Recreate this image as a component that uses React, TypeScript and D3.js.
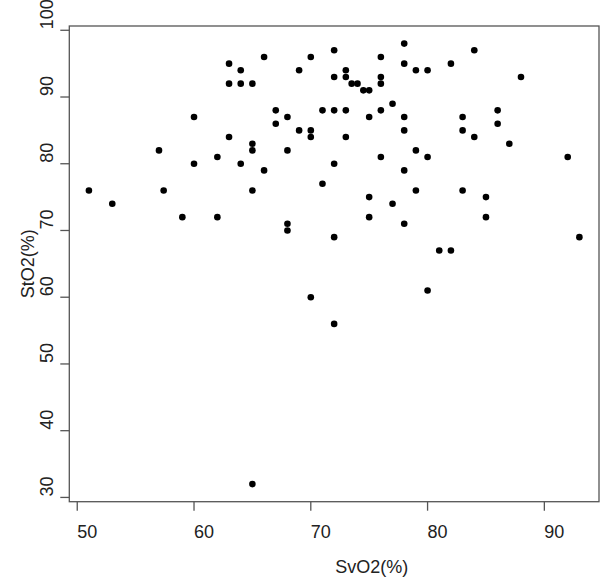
import React, { useEffect, useRef } from "react";
import * as d3 from "d3";

// SvO2 (x) and StO2 (y), one entry per patient
const svo2 = [
  51, 53, 57, 57.4, 59, 60, 60, 62, 62, 63, 63, 63, 64, 64, 64, 65, 65, 65, 65, 65,
  66, 66, 67, 67, 68, 68, 68, 68, 69, 69, 70, 70, 70, 70, 71, 71, 72, 72, 72, 72,
  72, 72, 73, 73, 73, 73, 73.5, 74, 74.5, 75, 75, 75, 75, 76, 76, 76, 76, 76, 77, 77,
  78, 78, 78, 78, 78, 78, 79, 79, 79, 80, 80, 80, 81, 82, 82, 83, 83, 83, 84, 84,
  85, 85, 86, 86, 87, 88, 92, 93,
];
const sto2 = [
  76, 74, 82, 76, 72, 87, 80, 81, 72, 95, 92, 84, 94, 92, 80, 92, 83, 82, 76, 32,
  96, 79, 88, 86, 87, 82, 71, 70, 94, 85, 96, 85, 84, 60, 88, 77, 97, 93, 88, 80,
  69, 56, 94, 93, 88, 84, 92, 92, 91, 91, 87, 75, 72, 96, 93, 92, 88, 81, 89, 74,
  98, 95, 87, 85, 79, 71, 94, 82, 76, 94, 81, 61, 67, 95, 67, 87, 85, 76, 97, 84,
  75, 72, 88, 86, 83, 93, 81, 69,
];
const xTicks = [50, 60, 70, 80, 90];
const yTicks = [30, 40, 50, 60, 70, 80, 90, 100];

const App = () => {
  const chartRef = useRef<HTMLDivElement>(null);

  useEffect(() => {
    const width = 600;
    const height = 578;
    const box = { left: 69.3, right: 599, top: 26, bottom: 501.7 };
    const ink = "#222";
    const axisColor = "#555";
    const font = "Arial, 'Liberation Sans', sans-serif";

    // R style: data range padded by 4%
    const pad = (ext: number[]) => {
      const d = (ext[1] - ext[0]) * 0.04;
      return [ext[0] - d, ext[1] + d];
    };
    const x = d3
      .scaleLinear()
      .domain(pad(d3.extent(svo2) as number[]))
      .range([box.left, box.right]);
    const y = d3
      .scaleLinear()
      .domain(pad(d3.extent(sto2) as number[]))
      .range([box.bottom, box.top]);

    const svg = d3
      .select(chartRef.current)
      .append("svg")
      .attr("width", width)
      .attr("height", height)
      .style("display", "block")
      .style("background", "#fff");

    svg
      .append("rect")
      .attr("x", box.left)
      .attr("y", box.top)
      .attr("width", box.right - box.left)
      .attr("height", box.bottom - box.top)
      .attr("fill", "none")
      .attr("stroke", axisColor)
      .attr("stroke-width", 1.3);

    // x axis ticks
    svg
      .selectAll(".xtick")
      .data(xTicks)
      .enter()
      .append("line")
      .attr("x1", (d) => x(d))
      .attr("x2", (d) => x(d))
      .attr("y1", box.bottom)
      .attr("y2", box.bottom + 9)
      .attr("stroke", axisColor)
      .attr("stroke-width", 1.3);

    svg
      .selectAll(".xlabel")
      .data(xTicks)
      .enter()
      .append("text")
      .attr("x", (d) => x(d))
      .attr("y", 538)
      .attr("fill", ink)
      .style("font-family", font)
      .style("font-size", "18px")
      .text((d) => d);

    // y axis ticks
    svg
      .selectAll(".ytick")
      .data(yTicks)
      .enter()
      .append("line")
      .attr("x1", box.left)
      .attr("x2", box.left - 9)
      .attr("y1", (d) => y(d))
      .attr("y2", (d) => y(d))
      .attr("stroke", axisColor)
      .attr("stroke-width", 1.3);

    svg
      .selectAll(".ylabel")
      .data(yTicks)
      .enter()
      .append("text")
      .attr("transform", (d) => `translate(53, ${y(d) - 1}) rotate(-90)`)
      .attr("fill", ink)
      .style("font-family", font)
      .style("font-size", "18px")
      .text((d) => d);

    // axis titles
    svg
      .append("text")
      .attr("x", (box.left + box.right) / 2 + 1)
      .attr("y", 573)
      .attr("fill", ink)
      .style("font-family", font)
      .style("font-size", "18px")
      .text("SvO2(%)");

    svg
      .append("text")
      .attr("transform", `translate(33.5, ${(box.top + box.bottom) / 2}) rotate(-90)`)
      .attr("text-anchor", "middle")
      .attr("fill", ink)
      .style("font-family", font)
      .style("font-size", "18px")
      .text("StO2(%)");

    svg
      .selectAll("circle.pt")
      .data(svo2.map((v, i) => ({ sv: v, st: sto2[i] })))
      .enter()
      .append("circle")
      .attr("class", "pt")
      .attr("cx", (d) => x(d.sv))
      .attr("cy", (d) => y(d.st))
      .attr("r", 3.3)
      .attr("fill", "#000");

    return () => {
      svg.remove();
    };
  }, []);

  return <div ref={chartRef} style={{ position: "absolute", left: 0, top: 0 }}></div>;
};

export default App;
